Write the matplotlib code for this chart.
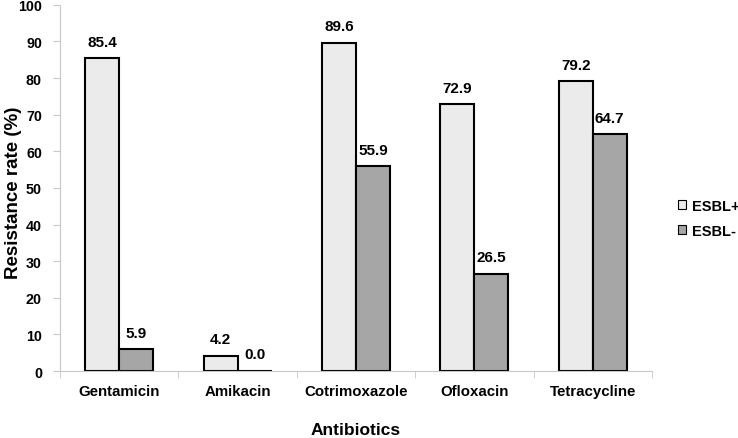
import numpy as np
import matplotlib
matplotlib.use('Agg')
import matplotlib.pyplot as plt

plt.rcParams['font.family'] = ['Liberation Sans', 'DejaVu Sans']
plt.rcParams['font.weight'] = 'bold'

antibiotics = ['Gentamicin', 'Amikacin', 'Cotrimoxazole', 'Ofloxacin', 'Tetracycline']
esbl_pos = [85.4, 4.2, 89.6, 72.9, 79.2]
esbl_neg = [5.9, 0.0, 55.9, 26.5, 64.7]
series_names = ['ESBL+', 'ESBL-']

fig = plt.figure(figsize=(7.38, 4.39), dpi=100)
ax = fig.add_axes([0.0813, 0.1526, 0.802, 0.834])

x = np.arange(len(antibiotics))
w = 0.287
b1 = ax.bar(x - w/2, esbl_pos, w, color='#ebebeb', edgecolor='black', linewidth=1.5, label=series_names[0])
b2 = ax.bar(x + w/2, esbl_neg, w, color='#a6a6a6', edgecolor='black', linewidth=1.5, label=series_names[1])

# value labels above each bar
for bars, vals in [(b1, esbl_pos), (b2, esbl_neg)]:
    for r, v in zip(bars, vals):
        ax.text(r.get_x() + r.get_width()/2, v + 2.6, f"{v:.1f}", ha='center', va='bottom',
                fontsize=11, fontweight='bold')

ax.set_xlim(-0.5, len(antibiotics) - 0.5)
ax.set_ylim(0, 100)
ax.set_yticks(range(0, 101, 10))
ax.set_xticks(x)
ax.set_xticklabels(antibiotics, fontsize=10.8, fontweight='bold')
ax.tick_params(axis='x', length=0, pad=9)
ax.set_xticks(np.arange(-0.5, len(antibiotics), 1), minor=True)
ax.tick_params(axis='x', which='minor', length=5, color='#c8c8c8')
ax.tick_params(axis='y', labelsize=10.3, length=5, color='#c8c8c8', pad=8)
for t in ax.get_yticklabels():
    t.set_fontweight('bold')

for s in ['top', 'right']:
    ax.spines[s].set_visible(False)
ax.spines['left'].set_color('#c8c8c8')
ax.spines['bottom'].set_color('#c8c8c8')

ax.set_ylabel('Resistance rate (%)', fontsize=13.5, fontweight='bold', va='center')
ax.yaxis.set_label_coords(-0.078, 0.49)
ax.set_xlabel('Antibiotics', fontsize=12.5, fontweight='bold', va='center')
ax.xaxis.set_label_coords(0.5, -0.161)

leg = ax.legend(loc='center left', bbox_to_anchor=(1.044, 0.417), frameon=False, borderpad=0,
                borderaxespad=0, fontsize=10.5, handlelength=0.55, handleheight=0.55,
                handletextpad=0.4, labelspacing=0.75)
for h in leg.legend_handles:
    h.set_linewidth(0.8)

fig.savefig('out.png', dpi=100)
